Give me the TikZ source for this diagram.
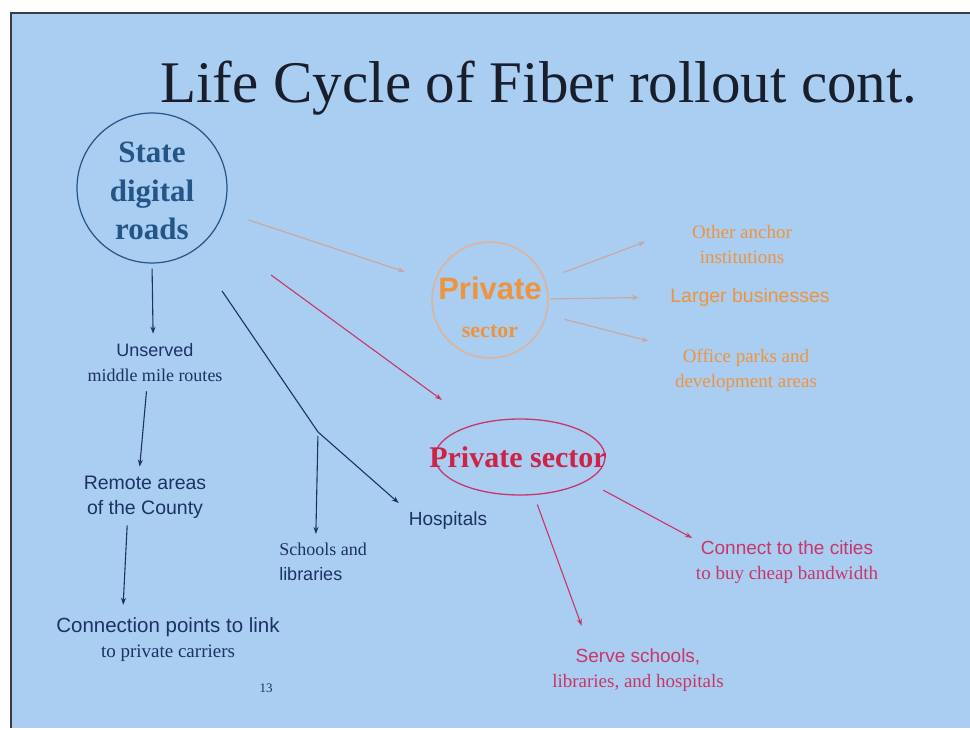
\documentclass[tikz,border=0pt]{standalone}
\usepackage{fontspec}
\setmainfont{Liberation Serif}
\setsansfont{Liberation Sans}
\usetikzlibrary{arrows.meta,shapes.geometric}
\definecolor{slide}{RGB}{170,205,242}
\definecolor{frame}{RGB}{60,60,70}
\definecolor{titlec}{RGB}{25,30,45}
\definecolor{navy}{RGB}{28,50,100}
\definecolor{sdrc}{RGB}{35,85,135}
\definecolor{orng}{RGB}{238,148,62}
\definecolor{orngline}{RGB}{225,178,150}
\definecolor{tanline}{RGB}{200,168,158}
\definecolor{redc}{RGB}{205,35,70}
\definecolor{redl}{RGB}{200,55,105}
\begin{document}
\begin{tikzpicture}[x=1pt,y=-1pt,
  lbl/.style={align=center,inner sep=1pt,font=\fontsize{19}{25}\selectfont},
  navylbl/.style={lbl,text=navy},
  orlbl/.style={lbl,text=orng},
  redlbl/.style={lbl,text=redl},
  arr/.style={-{Stealth[length=7pt,width=5pt]},line width=1.1pt},
  navyarr/.style={arr,draw=navy},
  orarr/.style={arr,draw=tanline},
  redarr/.style={arr,draw=redl}]
\useasboundingbox (0,0) rectangle (970,730);
\fill[white] (0,0) rectangle (970,730);
\fill[slide] (11,13) rectangle (970,728);
\draw[line width=2.5pt,frame] (11,728) -- (11,13) -- (970,13);

% title
\node[anchor=base,text=titlec,inner sep=0pt,font=\fontsize{59}{62}\selectfont] (title) at (539,103) {Life Cycle of Fiber rollout cont.};

% State digital roads
\node[circle,draw=sdrc,line width=1.2pt,minimum size=150pt,inner sep=0pt] (sdr) at (152,188) {};
\node[align=center,text=sdrc,inner sep=0pt,font=\bfseries\fontsize{31}{38.5}\selectfont] (sdrt) at (152,191) {State\\digital\\roads};

% left column
\node[navylbl] (uns) at (155,363) {{\sffamily\fontsize{18}{25}\selectfont Unserved}\\{\fontsize{18}{25}\selectfont middle mile routes}};
\node[navylbl,font=\sffamily\fontsize{19.5}{25}\selectfont] (rem) at (145,497) {Remote areas\\of the County};
\node[navylbl] (conn) at (168,640) {{\sffamily\fontsize{20.5}{25}\selectfont Connection points to link}\\{\fontsize{19}{25}\selectfont to private carriers}};
\node[navylbl,align=left] (sch) at (323,562) {{\fontsize{18}{25}\selectfont Schools and}\\{\sffamily\fontsize{18}{25}\selectfont libraries}};
\node[navylbl,font=\sffamily\fontsize{19}{25}\selectfont] (hosp) at (448,521) {Hospitals};
\node[text=navy,font=\fontsize{13}{15}\selectfont] (pn) at (266,688) {13};

\coordinate (j) at (318,432);

\draw[navyarr,shorten <=5pt,shorten >=9pt] (sdr.south) -- (uns.95);
\draw[navyarr,shorten <=8pt,shorten >=8pt] (uns.-111) -- (rem.105);
\draw[navyarr,shorten <=6pt,shorten >=12pt] (rem.-128) -- (conn.153);
\draw[line width=1.1pt,navy,shorten <=49pt] (sdr) -- (j);
\draw[navyarr,shorten >=12pt] (j) -- (hosp.north west);
\draw[navyarr,shorten <=4pt,shorten >=8pt] (j) -- (sch.110);

% orange private sector
\node[circle,draw=orngline,line width=1.5pt,minimum size=116pt,inner sep=0pt] (ps1) at (490,300) {};
\node[align=center,inner sep=0pt,text=orng,font=\fontsize{31}{38}\selectfont] (ps1t) at (490,307) {{\sffamily\bfseries Private}\\{\bfseries\fontsize{22}{38}\selectfont sector}};
\node[orlbl] (o1) at (742,245) {Other anchor\\institutions};
\node[orlbl,font=\sffamily\fontsize{19.5}{25}\selectfont] (o2) at (750,297) {Larger businesses};
\node[orlbl] (o3) at (746,370) {Office parks and\\development areas};

\draw[orarr,shorten <=26pt,shorten >=31pt] (sdr) -- (ps1);
\draw[orarr,shorten <=20pt,shorten >=49pt] (ps1) -- (o1.north west);
\draw[orarr,shorten <=2pt,shorten >=30pt] (ps1) -- (o2.west);
\draw[orarr,shorten <=18pt,shorten >=26pt] (ps1) -- (o3.north west);

% red private sector
\node[ellipse,draw=redl,line width=1.3pt,minimum width=170pt,minimum height=76pt,inner sep=0pt] (ps2) at (520,457) {};
\node[text=redc,inner sep=0pt,font=\bfseries\fontsize{30}{36}\selectfont] (ps2t) at (518,457) {Private sector};
\node[redlbl] (c1) at (787,562) {{\sffamily Connect to the cities}\\to buy cheap bandwidth};
\node[redlbl] (c2) at (638,670) {{\sffamily Serve schools,}\\libraries, and hospitals};

\draw[redarr,shorten <=72pt,shorten >=41pt] (sdr) -- (ps2);
\draw[redarr,shorten <=19pt,shorten >=3pt] (ps2.-20) -- (c1.north west);
\draw[redarr,shorten <=10pt,shorten >=23pt] (ps2.-70) -- (c2.155);
\end{tikzpicture}
\end{document}
